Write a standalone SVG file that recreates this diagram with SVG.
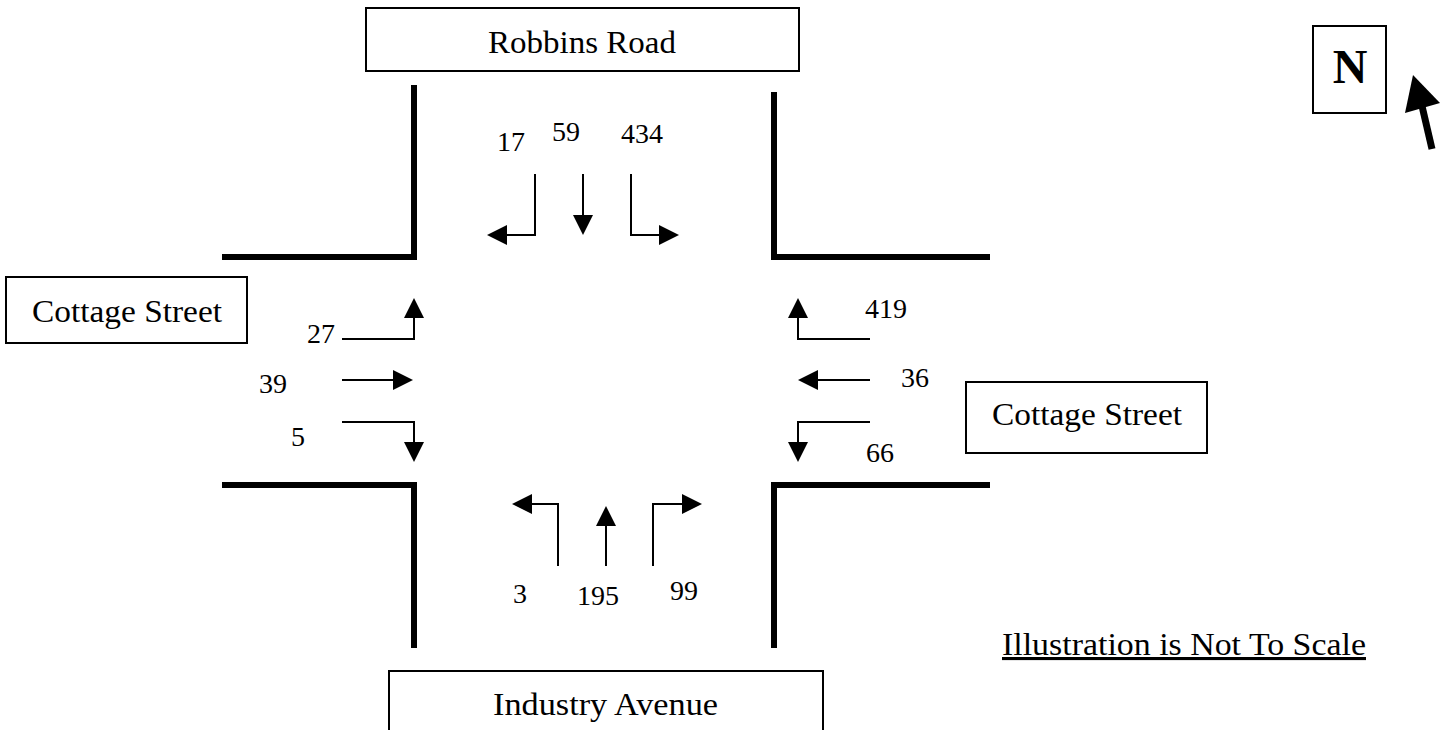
<svg xmlns="http://www.w3.org/2000/svg" width="1445" height="730" viewBox="0 0 1445 730">
<defs>
<marker id="ah" viewBox="0 0 20 20" refX="0" refY="10" markerWidth="20" markerHeight="20" markerUnits="userSpaceOnUse" orient="auto">
<path d="M0,0 L20,10 L0,20 z" fill="#000"/>
</marker>
</defs>
<style>
.curb{fill:none;stroke:#000;stroke-width:6;stroke-linejoin:miter}
.box{fill:#fff;stroke:#000;stroke-width:2}
.lbl{font-family:"Liberation Serif",serif;font-size:31px;fill:#000}
.num{font-family:"Liberation Serif",serif;font-size:28px;fill:#000}
.mv{fill:none;stroke:#000;stroke-width:2;marker-end:url(#ah)}
</style>
<rect width="1445" height="730" fill="#fff"/>
<g id="curbs">
<path class="curb" d="M222,257 H414 V85"/>
<path class="curb" d="M990,257 H774 V92"/>
<path class="curb" d="M222,485 H414 V648"/>
<path class="curb" d="M990,485 H774 V648"/>
</g>
<g id="robbins-road"><rect class="box" x="366" y="8" width="433" height="63"/><text class="lbl" x="488" y="53" textLength="188" lengthAdjust="spacingAndGlyphs">Robbins Road</text></g>
<g id="industry-avenue"><rect class="box" x="389" y="671" width="434" height="80"/><text class="lbl" x="493" y="715" textLength="225" lengthAdjust="spacingAndGlyphs">Industry Avenue</text></g>
<g id="cottage-west"><rect class="box" x="6" y="277" width="241" height="66"/><text class="lbl" x="32" y="322" textLength="190" lengthAdjust="spacingAndGlyphs">Cottage Street</text></g>
<g id="cottage-east"><rect class="box" x="966" y="382" width="241" height="71"/><text class="lbl" x="992" y="425" textLength="190" lengthAdjust="spacingAndGlyphs">Cottage Street</text></g>
<g id="north"><rect class="box" x="1313" y="26" width="73" height="87"/><text x="1350" y="83" text-anchor="middle" style="font-family:'Liberation Serif',serif;font-weight:bold;font-size:48px">N</text>
<line x1="1432" y1="149" x2="1422" y2="106" stroke="#000" stroke-width="7"/>
<polygon points="1413,75 1440,103 1405,113" fill="#000"/></g>
<g id="note"><text class="lbl" x="1002" y="655" textLength="364" lengthAdjust="spacingAndGlyphs" text-decoration="underline">Illustration is Not To Scale</text></g>
<g id="connectors">
<path class="mv" d="M535,174 V235 H507"/>
<path class="mv" d="M583,174 V215"/>
<path class="mv" d="M631,174 V235 H659"/>
<path class="mv" d="M342,339 H414 V318"/>
<path class="mv" d="M342,380 H393"/>
<path class="mv" d="M342,422 H414 V442"/>
<path class="mv" d="M870,339 H798 V318"/>
<path class="mv" d="M870,380 H818"/>
<path class="mv" d="M870,422 H798 V442"/>
<path class="mv" d="M558,566 V504 H532"/>
<path class="mv" d="M606,566 V526"/>
<path class="mv" d="M653,566 V504 H682"/>
</g>
<g id="counts">
<text class="num" x="497" y="151">17</text>
<text class="num" x="552" y="141">59</text>
<text class="num" x="621" y="143">434</text>
<text class="num" x="307" y="343">27</text>
<text class="num" x="259" y="393">39</text>
<text class="num" x="291" y="446">5</text>
<text class="num" x="865" y="318">419</text>
<text class="num" x="901" y="387">36</text>
<text class="num" x="866" y="462">66</text>
<text class="num" x="513" y="603">3</text>
<text class="num" x="577" y="605">195</text>
<text class="num" x="670" y="600">99</text>
</g>
</svg>
